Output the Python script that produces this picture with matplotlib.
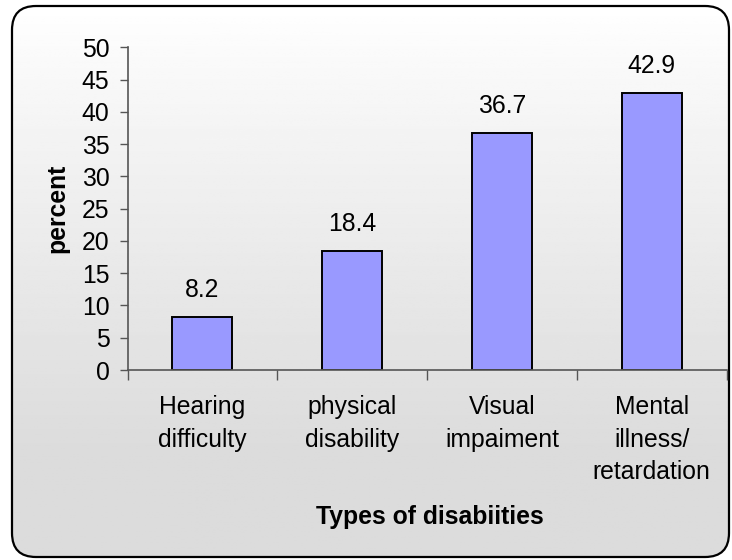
import numpy as np
import matplotlib.pyplot as plt
from matplotlib.patches import FancyBboxPatch

# data
categories = ["Hearing\ndifficulty", "physical\ndisability", "Visual\nimpaiment",
              "Mental\nillness/\nretardation"]
percent = [8.2, 18.4, 36.7, 42.9]
yticks = [0, 5, 10, 15, 20, 25, 30, 35, 40, 45, 50]

plt.rcParams['font.family'] = ['Liberation Sans', 'DejaVu Sans']
FS = 17.8

W, H = 732, 560
fig = plt.figure(figsize=(W / 100, H / 100), dpi=100)

# background: grey gradient inside a rounded frame
bg = fig.add_axes([0, 0, 1, 1], zorder=-10)
bg.set_xlim(0, W)
bg.set_ylim(H, 0)
bg.axis('off')
rows = np.linspace(0, 1, 200)
shade = 255 - 35 * np.clip(rows * 1.25, 0, 1) ** 0.9
grad = np.repeat(shade[:, None], 2, axis=1) / 255.0
frame = FancyBboxPatch((12, 6), 717, 551, boxstyle="round,pad=0,rounding_size=24",
                       facecolor='none', edgecolor='black', linewidth=1.6, zorder=3)
bg.add_patch(frame)
img = bg.imshow(grad, cmap='gray', vmin=0, vmax=1, extent=[12, 729, 557, 6],
                aspect='auto', zorder=1)
img.set_clip_path(frame)

# main axes
ax = fig.add_axes([127.5 / W, 1 - 370 / H, (726.7 - 127.5) / W, (370 - 47.3) / H])
ax.patch.set_alpha(0)
x = np.arange(len(percent))
bars = ax.bar(x, percent, width=0.4, color='#9999ff', edgecolor='black', linewidth=1.4)
for xi, v in zip(x, percent):
    ax.annotate(f"{v}", (xi, v), xytext=(0, 11), textcoords='offset points',
                ha='center', va='bottom', fontsize=FS)

ax.set_xlim(-0.5, len(percent) - 0.5)
ax.set_ylim(0, 50)
ax.set_yticks(yticks)
ax.tick_params(axis='y', labelsize=FS, length=6, width=1, color='#555555', pad=7)
ax.set_xticks(np.arange(len(percent) + 1) - 0.5)
ax.set_xticklabels([])
ax.tick_params(axis='x', length=7, width=1, color='#555555')
ax.set_xticks(x, minor=True)
ax.set_xticklabels(categories, minor=True, fontsize=FS, linespacing=1.45)
ax.tick_params(axis='x', which='minor', length=0, pad=18)
for s in ['top', 'right']:
    ax.spines[s].set_visible(False)
for s in ['left', 'bottom']:
    ax.spines[s].set_color('#555555')
    ax.spines[s].set_linewidth(1.2)

ax.set_ylabel("percent", fontsize=FS, fontweight='bold', labelpad=9)
fig.text(430 / W, 1 - 517 / H, "Types of disabiities", fontsize=FS, fontweight='bold',
         ha='center', va='center')

fig.savefig("out.png", dpi=100)
